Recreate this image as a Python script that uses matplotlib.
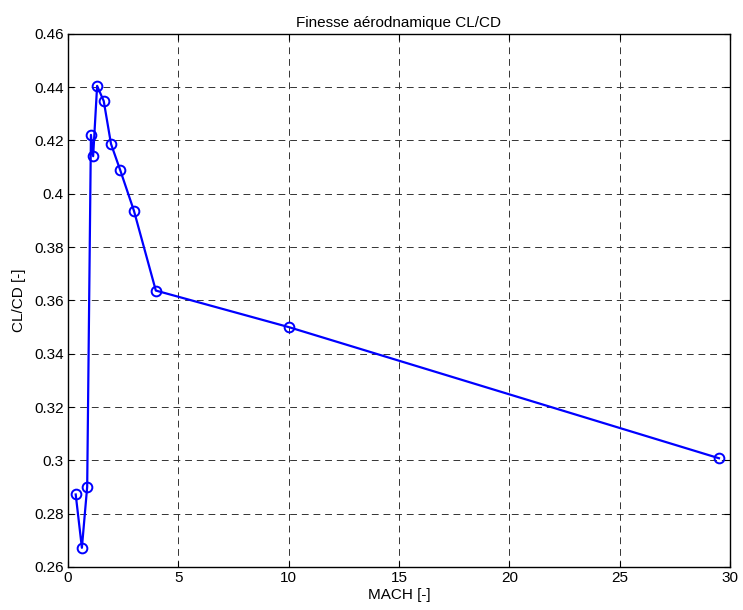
import matplotlib
matplotlib.use('Agg')
import matplotlib.pyplot as plt
import numpy as np

mach = [0.35, 0.63, 0.87, 1.04, 1.14, 1.32, 1.62, 1.95, 2.37, 2.99, 3.98, 10.0, 29.5]
finesse = [0.2872, 0.2672, 0.2901, 0.4221, 0.4141, 0.4405, 0.4348, 0.4187,
           0.4088, 0.3936, 0.3637, 0.3500, 0.3008]

plt.rcParams['font.family'] = ['Liberation Sans', 'DejaVu Sans']
plt.rcParams['font.size'] = 11

fig = plt.figure(figsize=(7.43, 6.10), dpi=100)
ax = fig.add_axes([0.0915, 0.0705, 0.891, 0.874])

ax.plot(mach, finesse, color='#0000ff', lw=1.6, marker='o', markersize=7,
        markerfacecolor='none', markeredgecolor='#0000ff', markeredgewidth=1.4)

ax.set_xlim(0, 30)
ax.set_ylim(0.26, 0.46)
ax.set_xticks(np.arange(0, 31, 5))
ax.set_yticks(np.arange(0.26, 0.461, 0.02))
ax.set_yticklabels(['0.26', '0.28', '0.3', '0.32', '0.34', '0.36', '0.38',
                    '0.4', '0.42', '0.44', '0.46'])
ax.grid(True, color='#333333', linestyle=(0, (7, 5)), linewidth=0.7)
ax.tick_params(direction='in', length=4, top=True, right=True, pad=3)
for s in ax.spines.values():
    s.set_linewidth(1.0)

ax.set_title('Finesse aérodnamique CL/CD', fontsize=11, pad=5)
ax.set_xlabel('MACH [-]', labelpad=2)
ax.set_ylabel('CL/CD [-]', labelpad=6)

fig.savefig('out.png', dpi=100)
